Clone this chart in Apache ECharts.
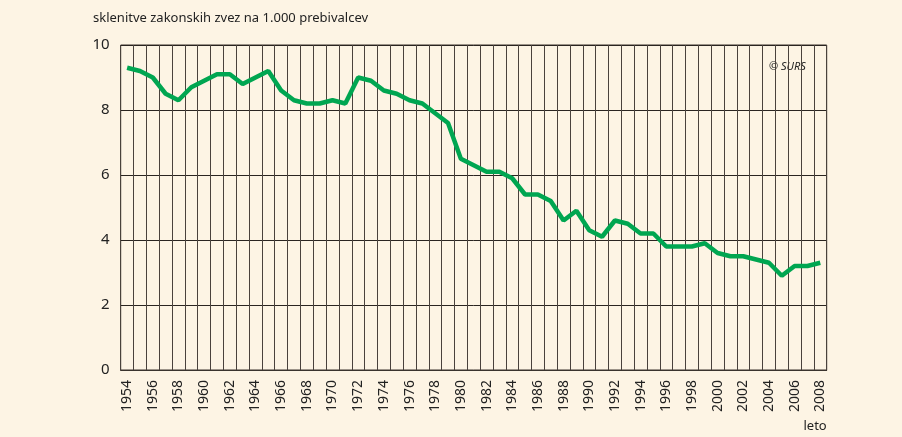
<!DOCTYPE html>
<html>
<head>
<meta charset="utf-8">
<script src="https://cdn.jsdelivr.net/npm/echarts@6/dist/echarts.min.js"></script>
<style>
html,body{margin:0;padding:0;background:#fdf4e4;}
#chart{width:902px;height:437px;}
</style>
</head>
<body>
<div id="chart"></div>
<script>
// leta in sklenitve zakonskih zvez na 1.000 prebivalcev
var years = [];
for (var y = 1954; y <= 2008; y++) { years.push(String(y)); }

var rate = [
    9.3, 9.2, 9.0, 8.5, 8.3, 8.7, 8.9, 9.1, 9.1, 8.8,
    9.0, 9.2, 8.6, 8.3, 8.2, 8.2, 8.3, 8.2, 9.0, 8.9,
    8.6, 8.5, 8.3, 8.2, 7.9, 7.6, 6.5, 6.3, 6.1, 6.1,
    5.9, 5.4, 5.4, 5.2, 4.6, 4.9, 4.3, 4.1, 4.6, 4.5,
    4.2, 4.2, 3.8, 3.8, 3.8, 3.9, 3.6, 3.5, 3.5, 3.4,
    3.3, 2.9, 3.2, 3.2, 3.3
];

var yTicks = [0, 2, 4, 6, 8, 10];

var font = "'Liberation Sans Narrow', 'Noto Sans', sans-serif";

var chart = echarts.init(document.getElementById('chart'));

var option = {
    backgroundColor: '#fdf4e4',
    animation: false,
    grid: {
        left: 120.7,
        right: 75.3,
        top: 45,
        bottom: 67,
        show: true,
        backgroundColor: 'transparent',
        borderColor: '#3a332d',
        borderWidth: 1
    },
    xAxis: {
        type: 'category',
        data: years,
        boundaryGap: true,
        name: 'leto',
        nameLocation: 'end',
        nameGap: 0,
        nameTextStyle: {
            color: '#222',
            fontFamily: "'Noto Sans', sans-serif",
            fontSize: 13,
            align: 'right',
            verticalAlign: 'top',
            padding: [50, 0, 0, 0]
        },
        axisLine: { lineStyle: { color: '#3a332d', width: 1 } },
        axisTick: { show: false },
        axisLabel: {
            rotate: 90,
            interval: 1,
            margin: 10,
            color: '#222',
            fontFamily: font,
            fontSize: 14
        },
        splitLine: {
            show: true,
            interval: 0,
            lineStyle: { color: '#4a423c', width: 1 }
        }
    },
    yAxis: {
        type: 'value',
        min: 0,
        max: 10,
        interval: 2,
        axisLine: { show: false },
        axisTick: { show: false },
        axisLabel: {
            margin: 11,
            color: '#222',
            fontFamily: "'Noto Sans', sans-serif",
            fontSize: 15,
            formatter: function (v) { return yTicks.indexOf(v) >= 0 ? String(v) : ''; }
        },
        splitLine: { lineStyle: { color: '#2a2420', width: 1 } }
    },
    graphic: [
        {
            type: 'text',
            left: 93,
            top: 12,
            style: {
                text: 'sklenitve zakonskih zvez na 1.000 prebivalcev',
                fill: '#222',
                font: "13px 'Noto Sans', sans-serif"
            }
        },
        {
            type: 'text',
            left: 769,
            top: 61,
            style: {
                text: '© SURS',
                fill: '#222',
                font: "italic 11px 'Noto Sans', sans-serif"
            }
        }
    ],
    series: [{
        type: 'line',
        data: rate,
        symbol: 'none',
        lineStyle: { color: '#00a651', width: 4.5 },
        z: 5
    }]
};

chart.setOption(option);
</script>
</body>
</html>
